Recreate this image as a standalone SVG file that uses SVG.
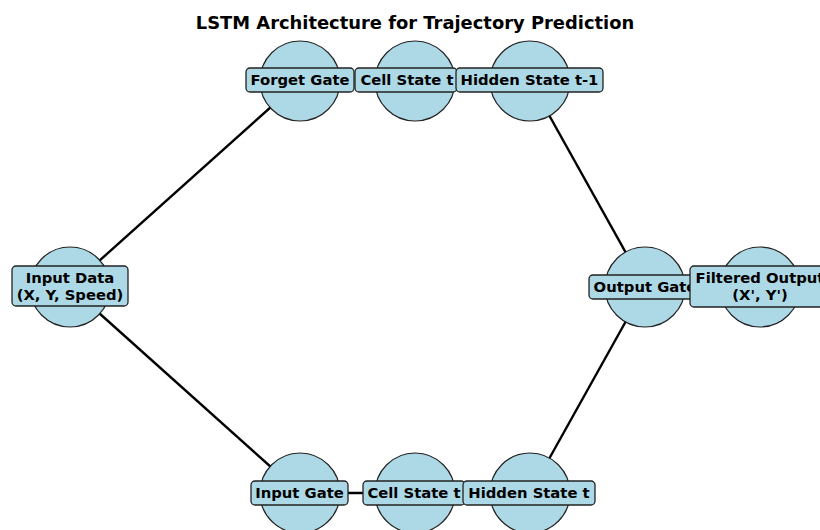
<svg xmlns="http://www.w3.org/2000/svg" width="820" height="530" viewBox="0 0 820 530">
<style>
.node circle{fill:#add8e6;stroke:#222;stroke-width:1.2}
.lbl{fill:#add8e6;stroke:#222;stroke-width:1.3}
text{font-family:"DejaVu Sans",sans-serif;font-weight:bold;font-size:14.8px;fill:#000;text-anchor:middle;dominant-baseline:central}
.title{font-size:17.9px}
#edges line{stroke:#000;stroke-width:2.4}
</style>
<rect width="820" height="530" fill="#fff"/>
<text class="title" x="415" y="22">LSTM Architecture for Trajectory Prediction</text>
<g id="edges">
<line x1="70" y1="287" x2="300" y2="81"/>
<line x1="70" y1="287" x2="300" y2="493"/>
<line x1="300" y1="493" x2="415" y2="493"/>
<line x1="530" y1="81" x2="645" y2="287"/>
<line x1="530" y1="493" x2="645" y2="287"/>
</g>
<g id="n-input-data" class="node"><circle cx="70" cy="287" r="40"/></g>
<g id="n-forget" class="node"><circle cx="300" cy="81" r="40"/></g>
<g id="n-cell-top" class="node"><circle cx="415" cy="81" r="40"/></g>
<g id="n-hidden-top" class="node"><circle cx="530" cy="81" r="40"/></g>
<g id="n-output" class="node"><circle cx="645" cy="287" r="40"/></g>
<g id="n-filtered" class="node"><circle cx="760" cy="287" r="40"/></g>
<g id="n-input-gate" class="node"><circle cx="300" cy="493" r="40"/></g>
<g id="n-cell-bottom" class="node"><circle cx="415" cy="493" r="40"/></g>
<g id="n-hidden-bottom" class="node"><circle cx="530" cy="493" r="40"/></g>
<g id="labels">
<g id="l-input-data"><rect class="lbl" x="12" y="266" width="116" height="40" rx="4"/><text x="70" y="277.5">Input Data</text><text x="70" y="294.5">(X, Y, Speed)</text></g>
<g id="l-forget"><rect class="lbl" x="246" y="68" width="108" height="24" rx="4"/><text x="300" y="79.5">Forget Gate</text></g>
<g id="l-cell-top"><rect class="lbl" x="355" y="68" width="102" height="24" rx="4"/><text x="407" y="79.5">Cell State t</text></g>
<g id="l-hidden-top"><rect class="lbl" x="456" y="68" width="147" height="24" rx="4"/><text x="529.5" y="79.5">Hidden State t-1</text></g>
<g id="l-output"><rect class="lbl" x="589" y="275" width="112" height="24" rx="4"/><text x="645" y="286.5">Output Gate</text></g>
<g id="l-filtered"><rect class="lbl" x="690" y="266" width="140" height="41" rx="4"/><text x="760" y="277.5">Filtered Output</text><text x="760" y="294.5">(X', Y')</text></g>
<g id="l-input-gate"><rect class="lbl" x="251" y="481" width="97" height="24" rx="4"/><text x="299.5" y="492.5">Input Gate</text></g>
<g id="l-cell-bottom"><rect class="lbl" x="363" y="481" width="102" height="24" rx="4"/><text x="414" y="492.5">Cell State t</text></g>
<g id="l-hidden-bottom"><rect class="lbl" x="463" y="481" width="132" height="24" rx="4"/><text x="529" y="492.5">Hidden State t</text></g>
</g>
</svg>
